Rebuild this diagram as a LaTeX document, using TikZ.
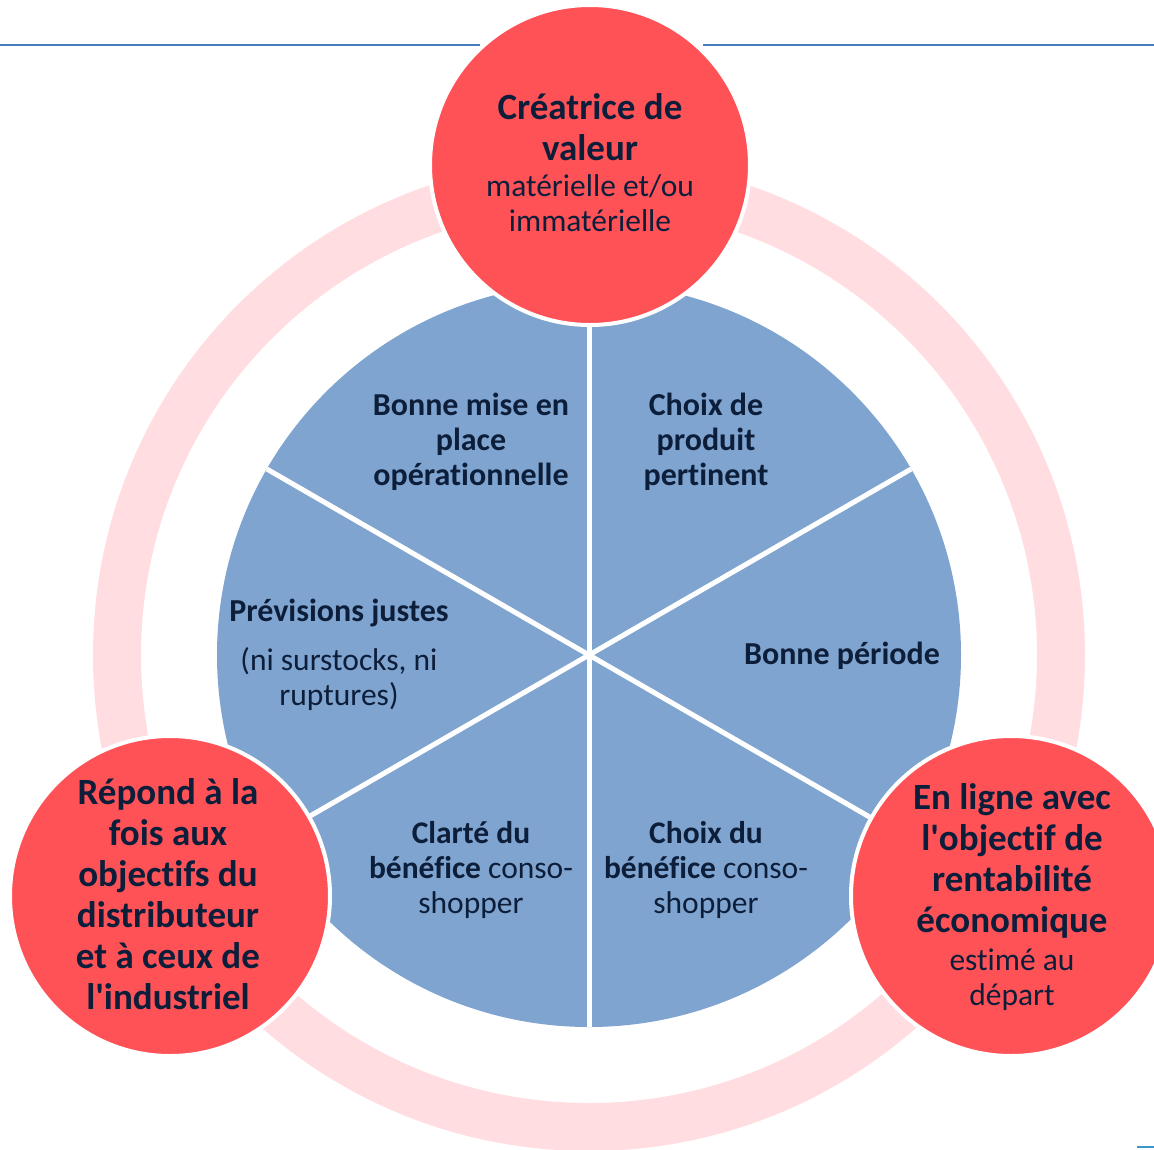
\documentclass[tikz,border=0pt]{standalone}
\usepackage{fontspec}
\setmainfont[Ligatures=NoCommon]{Carlito}
\usetikzlibrary{calc}
\definecolor{coral}{HTML}{FF5257}
\definecolor{blush}{HTML}{FFDDE0}
\definecolor{steel}{HTML}{7FA4CF}
\definecolor{ink}{HTML}{0D1E3A}
\definecolor{rule}{HTML}{4A7BBF}
\newcommand{\apo}{\textquotesingle}
\begin{document}
\begin{tikzpicture}[x=1pt,y=-1pt,
  bigdot/.style={circle,fill=coral,draw=white,line width=4pt,minimum size=320pt,inner sep=0pt},
  headtxt/.style={font=\fontsize{37}{41}\selectfont\bfseries,text=ink,align=center,anchor=base,inner sep=0pt},
  subtxt/.style={font=\fontsize{31.5}{35}\selectfont,text=ink,align=center,anchor=base,inner sep=0pt},
  sectxt/.style={font=\fontsize{32}{35}\selectfont\bfseries,text=ink,align=center,anchor=base,inner sep=0pt},
  secreg/.style={font=\fontsize{31.5}{35}\selectfont,text=ink,align=center,anchor=base,inner sep=0pt},
  divider/.style={white,line width=5pt}]
\useasboundingbox (0,0) rectangle (1154,1149);
\fill[white] (0,0) rectangle (1154,1149);

% header rule
\coordinate (ruleL) at (0,45);
\coordinate (ruleLe) at (480,45);
\coordinate (ruleRs) at (703,45);
\coordinate (ruleR) at (1154,45);
\draw[rule,line width=2pt] (ruleL) -- (ruleLe);
\draw[rule,line width=2pt] (ruleRs) -- (ruleR);
\coordinate (cornerA) at (1137,1147);
\coordinate (cornerB) at (1154,1147);
\draw[rule!80!cyan,line width=2pt] (cornerA) -- (cornerB);

% outer ring and central wheel
\coordinate (hub) at (589,655);
\draw[blush,line width=48pt] (hub) circle[radius=472pt];
\fill[steel] (hub) circle[radius=372pt];
\coordinate (dN) at ($(hub)+(0,-372)$);
\coordinate (dS) at ($(hub)+(0,372)$);
\coordinate (dNE) at ($(hub)+(322.2,-186)$);
\coordinate (dSW) at ($(hub)+(-322.2,186)$);
\coordinate (dNW) at ($(hub)+(-322.2,-186)$);
\coordinate (dSE) at ($(hub)+(322.2,186)$);
\draw[divider] (dN) -- (dS);
\draw[divider] (dNE) -- (dSW);
\draw[divider] (dNW) -- (dSE);

% sector labels (each placed by the baseline of its last line)
\node[sectxt] (s1) at (471,485) {Bonne mise en\\place\\opérationnelle};
\node[sectxt] (s2) at (706,485) {Choix de\\produit\\pertinent};
\node[sectxt] (s3) at (842,664) {Bonne période};
\node[sectxt] (s4) at (339,621) {Prévisions justes};
\node[secreg] (s4b) at (339,705) {(ni surstocks, ni\\ruptures)};
\node[secreg] (s5) at (471,913) {\textbf{Clarté du}\\\textbf{bénéfice} conso-\\shopper};
\node[secreg] (s6) at (706,913) {\textbf{Choix du}\\\textbf{bénéfice} conso-\\shopper};

% three outer goals
\node[bigdot] (top) at (590,165) {};
\node[bigdot] (left) at (170,896) {};
\node[bigdot] (right) at (1011,896) {};

\node[headtxt] (topH) at (590,160) {Créatrice de\\valeur};
\node[subtxt] (topS) at (590,231) {matérielle et/ou\\immatérielle};
\node[headtxt] (leftH) at (168,1009) {Répond à la\\fois aux\\objectifs du\\distributeur\\et à ceux de\\l\apo industriel};
\node[headtxt] (rightH) at (1012,932) {En ligne avec\\l\apo objectif de\\rentabilité\\économique};
\node[subtxt] (rightS) at (1012,1005) {estimé au\\départ};
\end{tikzpicture}
\end{document}
